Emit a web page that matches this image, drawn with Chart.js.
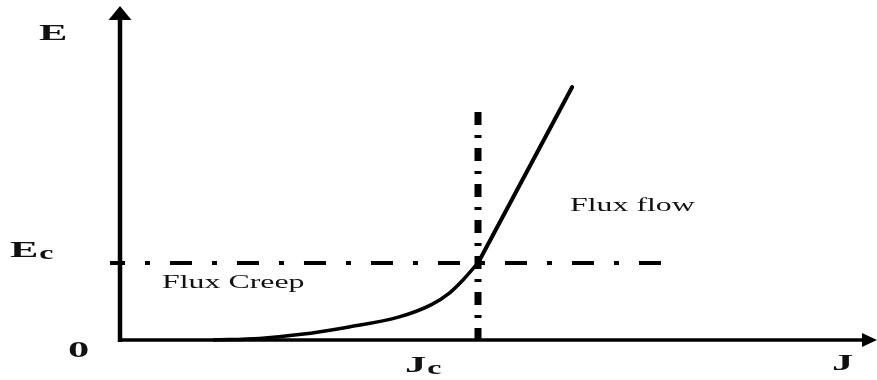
<!DOCTYPE html>
<html>
<head>
<meta charset="utf-8">
<script src="https://cdn.jsdelivr.net/npm/chart.js@4/dist/chart.umd.min.js"></script>
<style>
  html, body { margin: 0; padding: 0; background: #ffffff; }
  #wrap { width: 877px; height: 380px; }
</style>
</head>
<body>
<div id="wrap"><canvas id="ej" width="877" height="380"></canvas></div>
<script>
// E-J characteristic of a superconductor (normalised: Jc = 1, Ec = 1)
const creepJ = [0.26, 0.39, 0.50, 0.64, 0.78, 0.87, 0.92, 0.96, 1.0];
const creepE = [0, 0.02, 0.07, 0.17, 0.30, 0.46, 0.61, 0.79, 1.0];
const flowJ = [1.0, 1.263];
const flowE = [1.0, 3.286];

const Jc = 1;
const Ec = 1;
const ecLineEndJ = 1.522;   // where the Ec guide line stops
const jcLineTopE = 2.96;    // where the Jc guide line starts
const jMax = 2.1145;
const eMax = 4.3377;

const regionLabels = ['Flux Creep', 'Flux flow'];
const axisNames = ['E', 'J'];
const criticalNames = ['E', 'J'];   // drawn with subscript "c"
const originLabel = '0';

const pts = (xs, ys) => xs.map((x, i) => ({ x: x, y: ys[i] }));

const SX = 1.77;   // horizontal stretch of the lettering
const INK = '#111111';

function stretchedText(ctx, text, x, y, font) {
  ctx.save();
  ctx.translate(x, y);
  ctx.scale(SX, 1);
  ctx.font = font;
  ctx.fillStyle = INK;
  ctx.textBaseline = 'alphabetic';
  ctx.textAlign = 'left';
  ctx.fillText(text, 0, 0);
  const w = ctx.measureText(text).width * SX;
  ctx.restore();
  return w;
}

const axesPlugin = {
  id: 'axesWithArrows',
  beforeDatasetsDraw(chart) {
    const { ctx, scales: { x, y } } = chart;
    const x0 = x.getPixelForValue(0);
    const y0 = y.getPixelForValue(0);
    const yTop = y.top;
    const xEnd = x.right;
    ctx.save();
    ctx.strokeStyle = '#000';
    ctx.fillStyle = '#000';
    ctx.lineCap = 'butt';
    // vertical axis
    ctx.lineWidth = 4.5;
    ctx.beginPath();
    ctx.moveTo(x0, y0 + 2);
    ctx.lineTo(x0, yTop + 10);
    ctx.stroke();
    ctx.beginPath();
    ctx.moveTo(x0, yTop);
    ctx.lineTo(x0 - 11.5, yTop + 14);
    ctx.lineTo(x0 + 11.5, yTop + 14);
    ctx.closePath();
    ctx.fill();
    // horizontal axis
    ctx.lineWidth = 3.5;
    ctx.beginPath();
    ctx.moveTo(x0 - 2, y0);
    ctx.lineTo(xEnd - 10, y0);
    ctx.stroke();
    ctx.beginPath();
    ctx.moveTo(xEnd, y0);
    ctx.lineTo(xEnd - 15, y0 - 7);
    ctx.lineTo(xEnd - 15, y0 + 7);
    ctx.closePath();
    ctx.fill();
    ctx.restore();
  },
  afterDatasetsDraw(chart) {
    const { ctx, scales: { x, y } } = chart;
    const x0 = x.getPixelForValue(0);
    const y0 = y.getPixelForValue(0);
    const bold = 'bold 24px "Liberation Serif"';
    const sub = 'bold 18px "Liberation Serif"';
    const plain = '18px "Liberation Serif"';

    // axis names
    stretchedText(ctx, axisNames[0], x0 - 81, y.top + 34, bold);
    stretchedText(ctx, axisNames[1], x.right - 45, y0 + 30, bold);
    stretchedText(ctx, originLabel, x0 - 52, y0 + 17, bold);

    // Ec label
    const yEc = y.getPixelForValue(Ec);
    let w = stretchedText(ctx, criticalNames[0], x0 - 110, yEc - 6, bold);
    stretchedText(ctx, 'c', x0 - 110 + w + 1, yEc - 4, sub);

    // Jc label
    const xJc = x.getPixelForValue(Jc);
    w = stretchedText(ctx, criticalNames[1], xJc - 73, y0 + 32, bold);
    stretchedText(ctx, 'c', xJc - 73 + w + 1, y0 + 34, sub);

    // region labels
    stretchedText(ctx, regionLabels[0], x0 + 42, yEc + 25, plain);
    stretchedText(ctx, regionLabels[1], xJc + 92, y.getPixelForValue(1.68), plain);
  }
};

new Chart(document.getElementById('ej'), {
  type: 'line',
  data: {
    datasets: [
      {
        label: 'creep',
        data: pts(creepJ, creepE),
        borderColor: '#000',
        borderWidth: 3.5,
        cubicInterpolationMode: 'monotone',
        pointRadius: 0,
        fill: false,
        clip: false,
        order: 1
      },
      {
        label: 'flow',
        data: pts(flowJ, flowE),
        borderColor: '#000',
        borderWidth: 4,
        tension: 0,
        borderCapStyle: 'round',
        pointRadius: 0,
        fill: false,
        clip: false,
        order: 1
      },
      {
        label: 'Ec',
        data: [{ x: -0.028, y: Ec }, { x: ecLineEndJ, y: Ec }],
        borderColor: '#000',
        borderWidth: 4,
        borderDash: [22, 20, 5, 20],
        borderDashOffset: 7,
        tension: 0,
        pointRadius: 0,
        fill: false,
        clip: false,
        order: 2
      },
      {
        label: 'Jc',
        data: [{ x: Jc, y: jcLineTopE }, { x: Jc, y: 0 }],
        borderColor: '#000',
        borderWidth: 7,
        borderDash: [13, 10, 3, 10],
        tension: 0,
        pointRadius: 0,
        fill: false,
        clip: false,
        order: 2
      }
    ]
  },
  options: {
    responsive: false,
    animation: false,
    devicePixelRatio: 1,
    layout: { padding: { left: 120, right: 0, top: 6, bottom: 40 } },
    plugins: { legend: { display: false }, tooltip: { enabled: false } },
    scales: {
      x: { type: 'linear', min: 0, max: jMax, display: false },
      y: { type: 'linear', min: 0, max: eMax, display: false }
    }
  },
  plugins: [axesPlugin]
});
</script>
</body>
</html>
